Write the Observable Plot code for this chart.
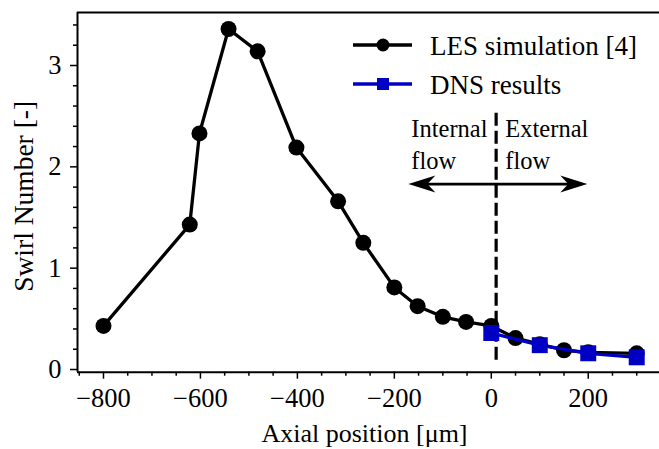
<!DOCTYPE html>
<html><head><meta charset="utf-8">
<script src="https://cdn.jsdelivr.net/npm/d3@7"></script>
<script src="https://cdn.jsdelivr.net/npm/@observablehq/plot@0.6"></script>
<style>
body{margin:0;background:#fff;}
#wrap{position:relative;width:659px;height:449px;font-family:"Liberation Serif","Times New Roman",serif;}
#legend{position:absolute;left:0;top:0;pointer-events:none;}
</style></head><body><div id="wrap"></div>
<script>
// LES simulation [4]
const lesX = [-800, -622, -602, -542, -482, -402, -316, -264, -200, -152, -100, -52, 0, 50, 100, 150, 200, 300];
const lesY = [0.43, 1.43, 2.33, 3.36, 3.14, 2.19, 1.66, 1.25, 0.81, 0.625, 0.52, 0.47, 0.43, 0.31, 0.25, 0.19, 0.17, 0.16];
// DNS results
const dnsX = [0, 100, 200, 300];
const dnsY = [0.36, 0.24, 0.16, 0.12];
const seriesNames = ["LES simulation [4]", "DNS results"];
const seriesColors = ["#000000", "#0000c4"];
// ticks
const xTicks = [-800, -600, -400, -200, 0, 200];
const xMinor = [-850, -750, -700, -650, -550, -500, -450, -350, -300, -250, -150, -100, -50, 50, 100, 150, 250, 300];
const yTicks = [0, 1, 2, 3];
const yMinor = [0.2, 0.4, 0.6, 0.8, 1.2, 1.4, 1.6, 1.8, 2.2, 2.4, 2.6, 2.8, 3.2, 3.4];
const xLabel = "Axial position [μm]";
const yLabel = "Swirl Number [-]";
// annotation
const dividerX = [10];
const dividerY = [2.53, 0.07];
const arrowY = [1.83];
const arrowTips = [-171, 198];
const regionLabels = ["Internal\nflow", "External\nflow"];
const regionLabelX = [-165, 29];
const regionLabelY = [1.98];

const xDomain = [-853.6, 347];
const yDomain = [-0.0266, 3.523];

const les = lesX.map((x, i) => ({x, y: lesY[i]}));
const dns = dnsX.map((x, i) => ({x, y: dnsY[i]}));

const arrowHead = {
  draw(ctx) {
    ctx.moveTo(0, 0);
    ctx.lineTo(-27, -8.5);
    ctx.lineTo(-19, 0);
    ctx.lineTo(-27, 8.5);
    ctx.closePath();
  }
};

const serif = "'Liberation Serif', 'Times New Roman', serif";

const chart = Plot.plot({
  width: 659,
  height: 449,
  marginLeft: 77,
  marginRight: 0,
  marginTop: 12,
  marginBottom: 77.3,
  style: {fontFamily: serif, fontSize: "26px", color: "black", background: "white"},
  x: {domain: xDomain},
  y: {domain: yDomain},
  marks: [
    Plot.axisX({ticks: xMinor, tickSize: 4, tickFormat: () => "", strokeWidth: 1.5, label: null}),
    Plot.axisX({ticks: xTicks, tickSize: 7, tickPadding: 9, tickFormat: d3.format("d"), strokeWidth: 1.5, label: null, fontSize: 26.5}),
    Plot.axisY({ticks: yMinor, tickSize: 4, tickFormat: () => "", strokeWidth: 1.5, label: null}),
    Plot.axisY({ticks: yTicks, tickSize: 7, tickPadding: 9, tickFormat: d3.format("d"), strokeWidth: 1.5, label: null, fontSize: 26.5}),
    Plot.ruleY([yDomain[0]], {stroke: "black", strokeWidth: 2}),
    Plot.ruleY([yDomain[1]], {stroke: "black", strokeWidth: 2}),
    Plot.ruleX([xDomain[0]], {stroke: "black", strokeWidth: 2}),
    Plot.text([xLabel], {frameAnchor: "bottom", dy: 69.5, dx: -4, textAnchor: "middle", lineAnchor: "bottom", fontSize: 26}),
    Plot.text([yLabel], {frameAnchor: "left", rotate: -90, dx: -53, dy: 4, textAnchor: "middle", lineAnchor: "middle", fontSize: 27.5}),
    // divider and arrows
    Plot.ruleX(dividerX, {y1: dividerY[0], y2: dividerY[1], stroke: "black", strokeWidth: 3.2, strokeDasharray: "13,5"}),
    Plot.link([0], {x1: arrowTips[0] + 20, x2: arrowTips[1] - 20, y1: arrowY[0], y2: arrowY[0], stroke: "black", strokeWidth: 2.8}),
    Plot.dot(arrowTips, {x: d => d, y: arrowY[0], symbol: arrowHead, fill: "black", stroke: null, rotate: d => d < 0 ? 180 : 0}),
    Plot.text(regionLabels, {x: (d, i) => regionLabelX[i], y: regionLabelY[0], textAnchor: "start", lineAnchor: "bottom", lineHeight: 1.3, fontSize: 24.5}),
    // series
    Plot.line(les, {x: "x", y: "y", stroke: seriesColors[0], strokeWidth: 3.3}),
    Plot.dot(les, {x: "x", y: "y", r: 8, fill: seriesColors[0]}),
    Plot.line(dns, {x: "x", y: "y", stroke: seriesColors[1], strokeWidth: 3.3}),
    Plot.dot(dns, {x: "x", y: "y", r: 9, symbol: "square", fill: seriesColors[1]})
  ]
});

const wrap = document.getElementById("wrap");
wrap.appendChild(chart);

// legend overlay
const legendSvg = d3.select(wrap).append("svg").attr("id", "legend").attr("width", 659).attr("height", 449);
const rows = [45, 84];
seriesNames.forEach((name, i) => {
  const g = legendSvg.append("g").attr("transform", `translate(0,${rows[i]})`);
  g.append("line").attr("x1", 353).attr("x2", 412).attr("y1", 0).attr("y2", 0)
    .attr("stroke", seriesColors[i]).attr("stroke-width", 3.3);
  if (i === 0) g.append("circle").attr("cx", 383).attr("cy", 0).attr("r", 6.5).attr("fill", seriesColors[i]);
  else g.append("rect").attr("x", 377).attr("y", -6).attr("width", 12).attr("height", 12).attr("fill", seriesColors[i]);
  g.append("text").attr("x", 430).attr("y", 9.5).attr("font-size", 27)
    .attr("font-family", serif).attr("fill", "black").text(name);
});
</script></body></html>
